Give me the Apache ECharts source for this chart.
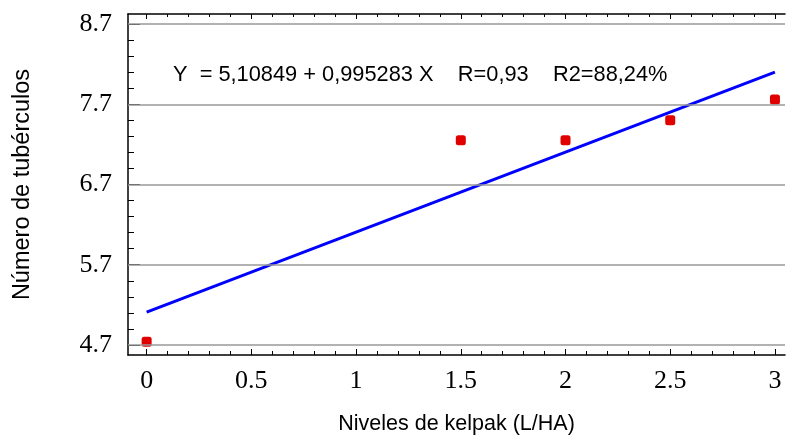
<!DOCTYPE html>
<html lang="es">
<head>
  <meta charset="UTF-8">
  <title>Número de tubérculos</title>
  <script src="https://cdn.jsdelivr.net/npm/echarts@6.0.0/dist/echarts.min.js"></script>
  <style>
    body { margin: 0; background: #ffffff; }
    #chart { width: 786px; height: 437px; }
  </style>
</head>
<body>
  <div id="chart"></div>

  <script>
    // datos
    const levels = [0, 1.5, 2, 2.5, 3];
    const tubers = [4.74, 7.25, 7.25, 7.5, 7.76];
    const fitX = [0, 3];
    const fitY = [5.11, 8.10];

    const xTicks = [0, 0.5, 1, 1.5, 2, 2.5, 3];
    const xMinor = [0.1, 0.2, 0.3, 0.4, 0.6, 0.7, 0.8, 0.9, 1.1, 1.2, 1.3, 1.4, 1.6, 1.7, 1.8, 1.9,
                    2.1, 2.2, 2.3, 2.4, 2.6, 2.7, 2.8, 2.9];
    const yTicks = [4.7, 5.7, 6.7, 7.7, 8.7];
    const yMinor = [4.9, 5.1, 5.3, 5.5, 5.9, 6.1, 6.3, 6.5, 6.9, 7.1, 7.3, 7.5, 7.9, 8.1, 8.3, 8.5];
    const equation = 'Y  = 5,10849 + 0,995283 X    R=0,93    R2=88,24%';

    const sans = '"Liberation Sans", Arial, sans-serif';
    const serif = '"Liberation Serif", "Times New Roman", serif';
    const xMin = -0.089, xMax = 3.048;
    const yMin = 4.575, yMax = 8.825;

    const chart = echarts.init(document.getElementById('chart'));

    function xAxisDef(pos, ticks, len, withLine, withLabel) {
      return {
        type: 'value', position: pos, min: xMin, max: xMax,
        axisLine: { show: withLine, onZero: false, lineStyle: { color: '#000', width: 1.5 } },
        axisTick: { show: true, inside: true, length: len, customValues: ticks,
                    lineStyle: { color: '#000', width: 1 } },
        axisLabel: withLabel
          ? { show: true, customValues: ticks, fontFamily: serif, fontSize: 26, color: '#000', margin: 13 }
          : { show: false },
        splitLine: { show: false }
      };
    }

    function yAxisDef(ticks, len, withLine, withLabel) {
      return {
        type: 'value', position: 'left', min: yMin, max: yMax,
        axisLine: { show: withLine, onZero: false, lineStyle: { color: '#000', width: 1.5 } },
        axisTick: { show: true, inside: true, length: len, customValues: ticks,
                    lineStyle: { color: '#000', width: 1 } },
        axisLabel: withLabel
          ? { show: true, customValues: ticks, fontFamily: serif, fontSize: 26, color: '#000', margin: 16 }
          : { show: false },
        splitLine: { show: false }
      };
    }

    const xMain = xAxisDef('bottom', xTicks, 6, true, true);
    xMain.name = 'Niveles de kelpak (L/HA)';
    xMain.nameLocation = 'middle';
    xMain.nameGap = 58;
    xMain.nameTextStyle = { fontFamily: sans, fontSize: 21.5, color: '#000' };

    const yMain = yAxisDef(yTicks, 12, true, true);
    yMain.name = 'Número de tubérculos';
    yMain.nameLocation = 'middle';
    yMain.nameGap = 93;
    yMain.nameTextStyle = { fontFamily: sans, fontSize: 23.5, color: '#000' };

    const option = {
      backgroundColor: '#ffffff',
      animation: false,
      grid: { left: 128, right: 1, top: 14, bottom: 82, outerBoundsMode: 'none' },
      title: {
        text: equation,
        left: 168, top: 59,
        textStyle: { fontFamily: sans, fontSize: 21.8, fontWeight: 'normal', color: '#000' }
      },
      xAxis: [
        xMain,
        xAxisDef('bottom', xMinor, 4, false, false),
        xAxisDef('top', xTicks, 5, true, false),
        xAxisDef('top', xMinor, 3, false, false)
      ],
      yAxis: [
        yMain,
        yAxisDef(yMinor, 6, false, false)
      ],
      series: [
        {
          name: 'grid',
          type: 'line',
          data: [],
          markLine: {
            silent: true,
            symbol: 'none',
            label: { show: false },
            lineStyle: { color: '#999', width: 1.5, type: 'solid' },
            data: yTicks.map(v => ({ yAxis: v }))
          }
        },
        {
          name: 'Ajuste',
          type: 'line',
          data: fitX.map((x, i) => [x, fitY[i]]),
          showSymbol: false,
          lineStyle: { color: '#0000ff', width: 3 },
          z: 3
        },
        {
          name: 'Observado',
          type: 'scatter',
          data: levels.map((x, i) => [x, tubers[i]]),
          symbol: 'roundRect',
          symbolSize: 10,
          itemStyle: { color: '#e00000', opacity: 1 },
          z: 4
        }
      ]
    };

    chart.setOption(option);
  </script>
</body>
</html>
